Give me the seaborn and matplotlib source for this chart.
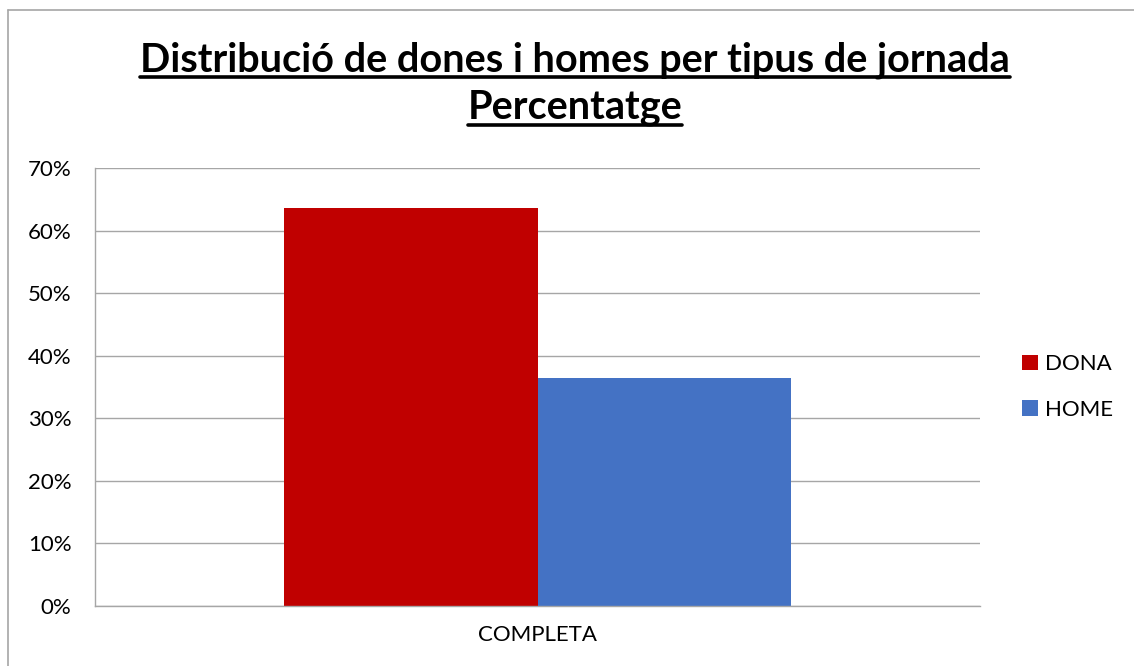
import matplotlib.pyplot as plt
import pandas as pd
import seaborn as sns
from matplotlib.lines import Line2D
from matplotlib.ticker import PercentFormatter

# Data
jornada = ["COMPLETA", "COMPLETA"]
sexe = ["DONA", "HOME"]
percentatge = [63.6, 36.4]
colors = ["#c00000", "#4472c4"]

df = pd.DataFrame({"jornada": jornada, "sexe": sexe, "pct": percentatge})

sns.set_theme(style="white")
plt.rcParams['font.family'] = ['Lato', 'DejaVu Sans']

fig = plt.figure(figsize=(11.34, 6.66), dpi=100)
ax = fig.add_axes([95 / 1134, 1 - 606 / 666, 885 / 1134, 438 / 666])

sns.barplot(data=df, x="jornada", y="pct", hue="sexe", palette=colors,
            saturation=1, width=0.572, linewidth=0, ax=ax, legend=True)

ax.set_ylim(0, 70)
ax.set_yticks(range(0, 71, 10))
ax.yaxis.set_major_formatter(PercentFormatter(decimals=0))
ax.yaxis.grid(True, color="#a6a6a6", linewidth=1)
ax.set_axisbelow(True)
ax.set_xlabel("")
ax.set_ylabel("")
ax.tick_params(axis="y", labelsize=16, length=0, pad=17, colors="black")
ax.tick_params(axis="x", labelsize=16, length=0, pad=14, colors="black")
for s in ["top", "right"]:
    ax.spines[s].set_visible(False)
for s in ["left", "bottom"]:
    ax.spines[s].set_color("#a6a6a6")
    ax.spines[s].set_linewidth(1)

leg = ax.legend(loc="center left", bbox_to_anchor=(1.025, 0.5), frameon=False,
                fontsize=16, handlelength=0.7, handleheight=0.7,
                handletextpad=0.35, labelspacing=1.15)
for txt in leg.get_texts():
    txt.set_color("black")

# title with underline
t1 = fig.text(0.507, 1 - 60 / 666, "Distribució de dones i homes per tipus de jornada",
              ha="center", va="center", fontsize=28.5, fontweight="bold", color="black")
t2 = fig.text(0.507, 1 - 108 / 666, "Percentatge",
              ha="center", va="center", fontsize=28.5, fontweight="bold", color="black")
fig.canvas.draw()
r = fig.canvas.get_renderer()
for t in (t1, t2):
    bb = t.get_window_extent(r).transformed(fig.transFigure.inverted())
    y = bb.y0 + 0.003
    fig.add_artist(Line2D([bb.x0, bb.x1], [y, y], transform=fig.transFigure,
                          color="black", linewidth=2.6))

# chart border (top and left only, as in the cropped original)
bx, by = 8 / 1134, 1 - 10 / 666
fig.add_artist(Line2D([bx, 1], [by, by], transform=fig.transFigure,
                      color="#a6a6a6", linewidth=1.2))
fig.add_artist(Line2D([bx, bx], [0, by], transform=fig.transFigure,
                      color="#a6a6a6", linewidth=1.2))

fig.savefig("out.png", dpi=100)
